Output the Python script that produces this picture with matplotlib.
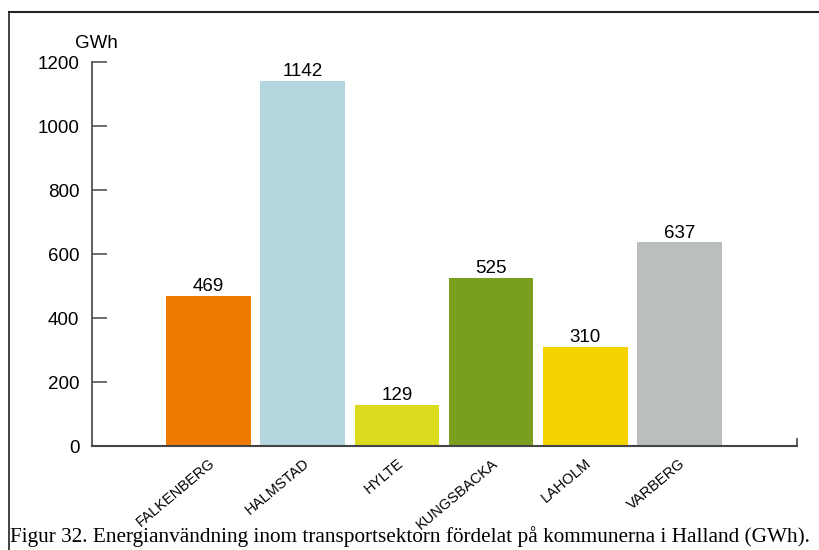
import matplotlib
matplotlib.use("Agg")
import matplotlib.pyplot as plt
from matplotlib.lines import Line2D

kommuner = ["FALKENBERG", "HALMSTAD", "HYLTE", "KUNGSBACKA", "LAHOLM", "VARBERG"]
gwh = [469, 1142, 129, 525, 310, 637]
colors = ["#ee7a00", "#b4d6de", "#dcdc1e", "#7a9e1e", "#f5d300", "#babfbc"]
yticks = [0, 200, 400, 600, 800, 1000, 1200]
caption = "Figur 32. Energianvändning inom transportsektorn fördelat på kommunerna i Halland (GWh)."

plt.rcParams['font.family'] = ['Liberation Sans', 'DejaVu Sans']

fig = plt.figure(figsize=(8.19, 5.5), dpi=100)
ax = fig.add_axes([0.1123, 0.189, 0.8608, 0.698])

x = list(range(len(kommuner)))
ax.bar(x, gwh, width=0.9, color=colors)
for xi, v in zip(x, gwh):
    ax.text(xi, v + 2, str(v), ha='center', va='bottom', fontsize=13.5)

ax.set_xlim(-1.24, 6.25)
ax.set_ylim(0, 1200)
ax.set_yticks(yticks)
ax.set_yticklabels([str(t) for t in yticks], fontsize=13.5)
ax.tick_params(axis='y', direction='in', length=11, width=1.2, color='#555555', pad=9)
ax.set_xticks(x)
ax.set_xticklabels(kommuner, rotation=40, ha='right', rotation_mode='anchor', fontsize=10.5)
ax.tick_params(axis='x', length=0, pad=7)
for s in ['top', 'right']:
    ax.spines[s].set_visible(False)
ax.spines['left'].set_color('#444444')
ax.spines['bottom'].set_color('#444444')
ax.spines['left'].set_linewidth(1.2)
ax.spines['bottom'].set_linewidth(1.5)
# small upward tick at right end of x axis
ax.plot([6.25, 6.25], [0, 22], color='#444444', lw=1.2, clip_on=False)

fig.text(96 / 819, 1 - 44 / 550, "GWh", ha='center', va='center', fontsize=13.5)

# figure frame (top and left)
fig.add_artist(Line2D([9 / 819, 1], [1 - 12 / 550, 1 - 12 / 550], color='#222222', lw=1.5))
fig.add_artist(Line2D([9 / 819, 9 / 819], [0, 1 - 12 / 550], color='#222222', lw=1.2))

fig.text(10 / 819, 1 - 537 / 550, caption, ha='left', va='center',
         fontsize=15.3, family=['Liberation Serif', 'DejaVu Serif'])

fig.savefig("out.png", dpi=100)
